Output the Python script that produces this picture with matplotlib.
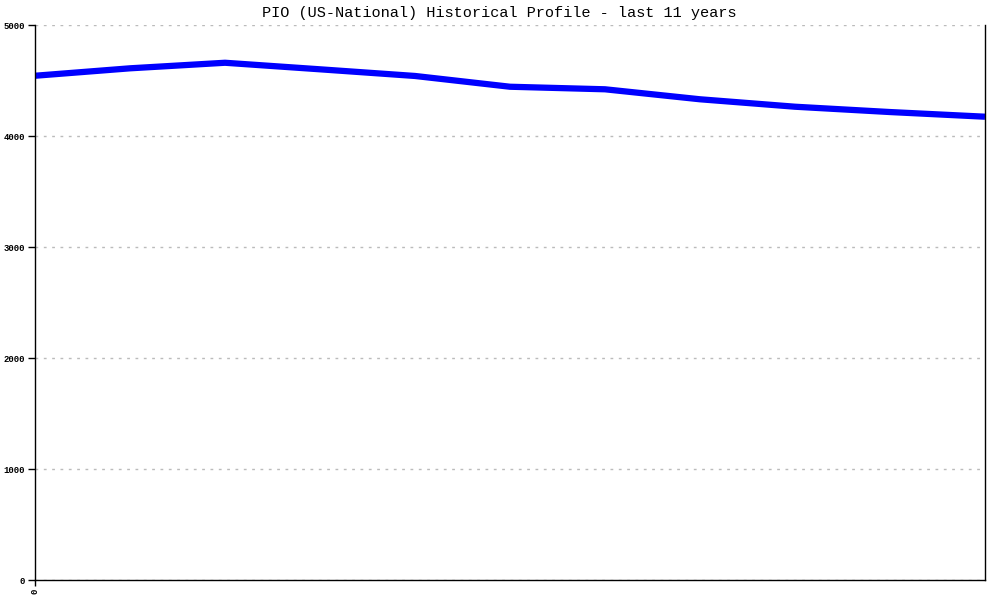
import matplotlib
matplotlib.use('Agg')
import matplotlib.pyplot as plt

# yearly values (11 years, 0..10)
years = list(range(11))
values = [4543, 4610, 4660, 4601, 4541, 4444, 4421, 4331, 4264, 4216, 4174]
yticks = [0, 1000, 2000, 3000, 4000, 5000]

fig = plt.figure(figsize=(10, 6), dpi=100)
ax = fig.add_axes([0.035, 0.0333, 0.95, 0.925])

ax.plot(years, values, color='#0000ff', lw=4.5, solid_joinstyle='round', solid_capstyle='butt')

ax.set_xlim(0, 10)
ax.set_ylim(0, 5000)
ax.set_yticks(yticks)
ax.set_yticklabels([str(t) for t in yticks], fontfamily='Liberation Mono', fontsize=6.5, fontweight='bold')
ax.set_xticks([0])
ax.set_xticklabels(['0'], rotation=90, fontfamily='Liberation Mono', fontsize=6.5, fontweight='bold')
ax.tick_params(axis='y', direction='out', length=5, width=1, pad=2)
ax.tick_params(axis='x', direction='out', length=4, width=1, pad=2)

ax.grid(axis='y', color='#bbbbbb', linestyle=(0, (2, 4)), lw=1)
ax.set_axisbelow(True)
ax.spines['top'].set_visible(False)
for s in ['left', 'right', 'bottom']:
    ax.spines[s].set_linewidth(1)
    ax.spines[s].set_color('black')

fig.text(0.499, 0.978, 'PIO (US-National) Historical Profile - last 11 years',
         ha='center', va='center', fontfamily='Liberation Mono', fontsize=11)

fig.savefig('out.png', dpi=100)
